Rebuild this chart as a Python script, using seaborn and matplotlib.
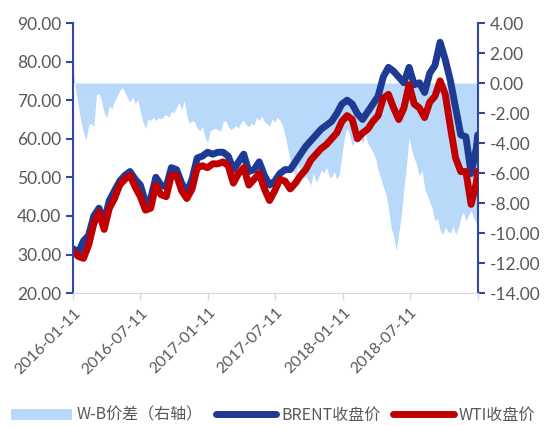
import numpy as np
import pandas as pd
import seaborn as sns
import matplotlib.pyplot as plt
from matplotlib.patches import Patch
from matplotlib.lines import Line2D

# biweekly closes
price_dates = list(pd.date_range('2016-01-11', '2019-01-07', freq='14D')) + [pd.Timestamp('2019-01-11')]

brent = [31.5, 30.5, 33.5, 35.0, 40.0, 42.0, 38.5, 44.0, 46.5, 49.0,
         50.5, 51.5, 49.5, 48.0, 43.5, 44.5, 50.0, 48.0, 47.5, 52.5,
         52.0, 48.5, 46.0, 49.5, 55.0, 55.5, 56.5, 56.0, 56.5, 56.5,
         55.5, 52.0, 54.0, 56.0, 51.5, 52.0, 54.0, 50.5, 48.0, 49.0,
         51.0, 52.0, 52.0, 54.0, 56.0, 58.0, 59.5, 61.0, 62.5, 63.5,
         64.5, 66.5, 69.0, 70.0, 69.0, 66.5, 65.0, 67.0, 69.0, 71.0,
         76.0, 78.5, 77.5, 76.0, 74.5, 78.5, 74.0, 74.5, 72.0, 77.0,
         79.0, 85.0, 80.5, 75.0, 68.0, 61.0, 60.5, 51.0, 57.5, 61.0]

wti = [30.8, 29.5, 29.0, 32.5, 38.0, 41.0, 36.5, 42.0, 44.5, 48.0,
       49.5, 50.5, 47.5, 45.0, 41.5, 42.0, 48.0, 45.5, 45.0, 50.5,
       50.5, 46.5, 44.5, 47.0, 52.5, 53.0, 52.5, 53.5, 53.5, 54.0,
       53.0, 48.5, 51.0, 52.5, 48.0, 49.5, 51.0, 47.0, 44.0, 46.5,
       49.5, 49.0, 47.0, 48.5, 50.5, 52.0, 54.5, 56.0, 57.5, 58.5,
       60.0, 61.5, 64.5, 66.0, 65.0, 60.0, 61.5, 62.5, 64.5, 66.0,
       70.5, 71.5, 68.0, 65.0, 68.0, 74.0, 69.0, 68.0, 65.5, 69.5,
       71.0, 75.0, 71.5, 63.0, 55.0, 51.5, 51.5, 43.0, 48.5, 51.6]

# weekly W-B spread (right axis)
spread_dates = list(pd.date_range('2016-01-11', '2019-01-07', freq='7D')) + [pd.Timestamp('2019-01-11')]

spread = [1.0, -0.5, -1.5, -2.6, -3.3, -3.8, -2.8, -2.7, -2.9, -0.8, -0.7, -1.2, -2.0,
          -2.3, -1.5, -1.7, -1.2, -0.9, -0.5, -0.3, -0.6, -1.0, -1.3, -0.9, -1.4, -1.1,
          -1.9, -2.6, -3.0, -2.4, -2.5, -2.3, -2.5, -2.3, -2.4, -2.2, -2.1, -2.3, -1.9,
          -2.0, -1.6, -1.3, -1.8, -1.2, -2.2, -2.7, -2.5, -2.6, -3.0, -3.2, -2.9, -3.6,
          -4.0, -3.2, -3.1, -3.0, -3.1, -3.2, -2.6, -2.5, -2.9, -3.1, -3.0, -2.8, -3.0,
          -2.6, -2.5, -2.8, -2.9, -2.7, -2.8, -2.3, -2.5, -2.2, -2.6, -2.7, -2.9, -2.4,
          -2.6, -2.3, -2.5, -2.8, -3.5, -4.3, -5.2, -5.8, -6.2, -5.5, -6.0, -6.4, -6.2,
          -6.5, -6.8, -6.0, -6.6, -6.3, -5.8, -6.0, -5.6, -6.2, -6.3, -5.9, -6.4, -6.1,
          -4.8, -3.6, -3.0, -3.5, -4.2, -3.8, -3.2, -3.6, -4.0, -3.4, -4.0, -4.3, -4.6,
          -5.0, -5.8, -6.3, -6.9, -7.4, -8.3, -9.6, -10.2, -11.2, -10.0, -8.8, -7.0, -5.5,
          -3.6, -4.5, -5.0, -5.5, -6.2, -5.8, -7.0, -7.5, -7.9, -8.4, -9.2, -9.0, -9.8,
          -10.1, -9.6, -9.9, -10.0, -9.5, -10.1, -9.7, -9.0, -8.6, -9.2, -8.8, -8.5, -9.0,
          -9.3, -9.0]

tick_dates = ['2016-01-11', '2016-07-11', '2017-01-11', '2017-07-11', '2018-01-11', '2018-07-11']

prices = pd.DataFrame({'date': price_dates, 'brent': brent, 'wti': wti})
wb = pd.DataFrame({'date': spread_dates, 'spread': spread})

sns.set_style('white')
plt.rcParams['font.family'] = ['Lato', 'DejaVu Sans']

navy = '#1f3a93'
red = '#c00000'
fillc = '#b9d9fb'
axis_blue = '#2f4a9c'
grey_txt = '#595959'

fig = plt.figure(figsize=(5.46, 4.26), dpi=100)
ax1 = fig.add_axes([0.134, 0.312, 0.741, 0.634])
ax2 = ax1.twinx()

ax2.fill_between(wb['date'], wb['spread'], 0, color=fillc, linewidth=0)
ax2.set_ylim(-14, 4)
ax2.set_yticks(np.arange(-14, 5, 2))
ax2.set_yticklabels([f'{v:.2f}' for v in np.arange(-14, 5, 2)])

sns.lineplot(data=prices, x='date', y='brent', ax=ax1, color=navy, linewidth=5,
             solid_capstyle='round', solid_joinstyle='round')
sns.lineplot(data=prices, x='date', y='wti', ax=ax1, color=red, linewidth=5,
             solid_capstyle='round', solid_joinstyle='round')

ax1.set_zorder(ax2.get_zorder() + 1)
ax1.patch.set_visible(False)

ax1.set_ylim(20, 90)
ax1.set_yticks(np.arange(20, 91, 10))
ax1.set_yticklabels([f'{v:.2f}' for v in np.arange(20, 91, 10)])
ax1.set_xlim(pd.Timestamp('2016-01-11'), pd.Timestamp('2019-01-11'))
ax1.set_xticks(pd.to_datetime(tick_dates + ['2019-01-11']))
ax1.set_xticklabels(tick_dates + [''], rotation=45, ha='right', rotation_mode='anchor')
ax1.set_xlabel('')
ax1.set_ylabel('')

for ax in (ax1, ax2):
    for s in ax.spines.values():
        s.set_visible(False)
ax1.spines['left'].set_visible(True)
ax1.spines['left'].set_color(axis_blue)
ax1.spines['left'].set_linewidth(1.5)
ax1.spines['bottom'].set_visible(True)
ax1.spines['bottom'].set_color('#d9d9d9')
ax2.spines['right'].set_visible(True)
ax2.spines['right'].set_color(axis_blue)
ax2.spines['right'].set_linewidth(1.5)

ax1.tick_params(axis='y', colors=axis_blue, labelcolor=grey_txt, labelsize=12.5,
                length=5, width=1.5, direction='out', left=True)
ax2.tick_params(axis='y', colors=axis_blue, labelcolor=grey_txt, labelsize=12.5,
                length=5, width=1.5, direction='out', right=True)
ax1.tick_params(axis='x', colors='#d9d9d9', labelcolor=grey_txt, labelsize=11.5,
                length=5, width=1, direction='out', bottom=True, pad=4)

handles = [Patch(facecolor=fillc, edgecolor='none'),
           Line2D([0], [0], color=navy, linewidth=5, solid_capstyle='round'),
           Line2D([0], [0], color=red, linewidth=5, solid_capstyle='round')]
labels = ['W-B价差（右轴）', 'BRENT收盘价', 'WTI收盘价']
fig.legend(handles, labels, loc='center', bbox_to_anchor=(0.5, 0.025), ncol=3,
           frameon=False, handlelength=3.8, handletextpad=0.3, columnspacing=0.8,
           prop={'family': ['Noto Sans CJK SC', 'DejaVu Sans'], 'size': 11.5},
           labelcolor=grey_txt)

fig.savefig('out.png', dpi=100)
